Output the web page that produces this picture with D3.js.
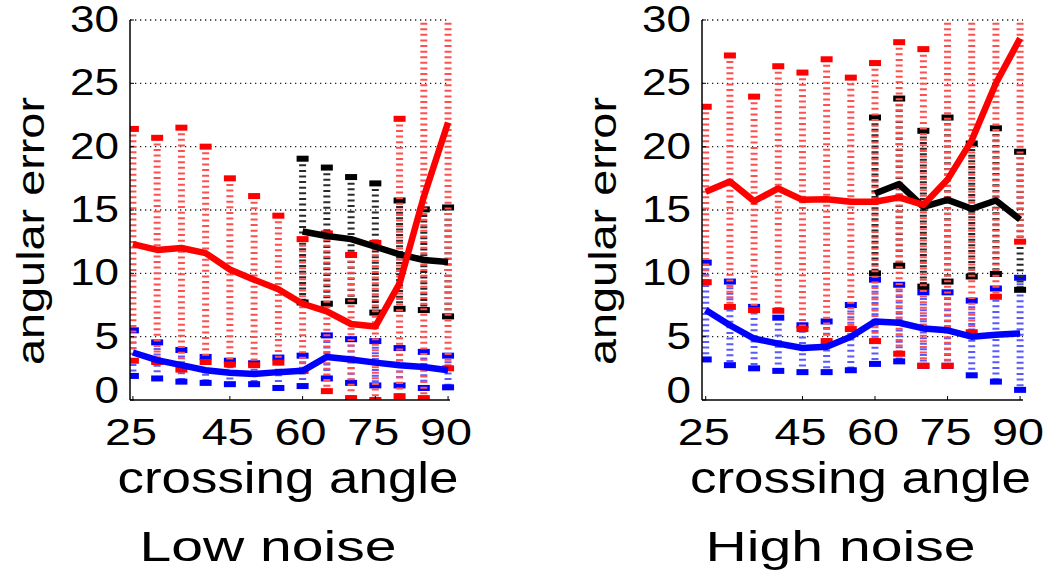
<!DOCTYPE html>
<html>
<head>
<meta charset="utf-8">
<script src="https://cdn.jsdelivr.net/npm/d3@7"></script>
<style>
html,body{margin:0;padding:0;background:#fff;}
svg{display:block;}
text{font-family:"Liberation Sans",Arial,sans-serif;fill:#000;}
</style>
</head>
<body>
<svg id="chart" width="1050" height="579"></svg>
<script>
// ---------- data ----------
const angles = [25,30,35,40,45,50,55,60,65,70,75,80,85,90];
const anglesBlack = [60,65,70,75,80,85,90];
const xTicks = [25,45,60,75,90];
const yTicks = [0,5,10,15,20,25,30];

// Low noise
const lowRedMean  = [12.3,11.85,12.0,11.6,10.3,9.5,8.75,7.6,7.0,6.0,5.8,9.2,16.05,21.9];
const lowRedUpper = [21.4,20.7,21.5,20.0,17.5,16.1,14.55,12.7,13.15,11.45,12.4,22.2,32,32];
const lowRedLower = [3.1,3.0,2.4,3.0,2.8,2.75,2.95,2.3,0.7,0.15,0.0,0.3,0.15,2.5];
const lowBlueMean  = [3.75,3.15,2.75,2.35,2.15,2.05,2.2,2.3,3.4,3.2,2.95,2.75,2.6,2.35];
const lowBlueUpper = [5.5,4.55,3.95,3.4,3.1,2.9,3.35,3.5,5.1,4.8,4.65,4.1,3.8,3.5];
const lowBlueLower = [1.9,1.7,1.45,1.35,1.25,1.25,0.95,1.1,1.7,1.35,1.15,1.15,0.95,1.0];
const lowBlackMean  = [13.3,12.95,12.7,12.1,11.5,11.05,10.9];
const lowBlackUpper = [19.05,18.35,17.6,17.1,15.75,15.05,15.2];
const lowBlackLower = [7.7,7.6,7.8,6.9,7.2,7.1,6.6];

// High noise
const highRedMean  = [16.45,17.25,15.7,16.7,15.8,15.85,15.65,15.65,16.0,15.4,17.4,20.5,25.0,28.55];
const highRedUpper = [23.15,27.2,23.95,26.35,25.85,26.9,25.45,26.6,28.25,27.7,32,32,32,32];
const highRedLower = [9.3,7.35,7.1,7.05,5.6,4.65,5.6,4.65,3.65,2.7,2.7,5.35,8.15,12.5];
const highBlueMean  = [7.1,5.9,4.85,4.45,4.1,4.2,5.0,6.2,6.1,5.65,5.5,5.0,5.15,5.25];
const highBlueUpper = [10.85,9.35,7.35,6.5,5.9,6.2,7.5,9.5,9.1,8.5,8.5,7.85,8.8,9.65];
const highBlueLower = [3.2,2.75,2.5,2.3,2.2,2.2,2.35,2.85,3.05,2.7,2.7,1.95,1.45,0.8];
const highBlackMean  = [16.3,17.05,15.25,15.8,15.1,15.75,14.25];
const highBlackUpper = [22.3,23.8,21.25,22.3,20.25,21.45,19.6];
const highBlackLower = [10.0,10.6,8.95,9.35,9.75,9.95,8.7];

const panelTitles = ["Low noise","High noise"];
const xLabel = "crossing angle";
const yLabel = "angular error";

// ---------- drawing ----------
const svg = d3.select("#chart");

function panel(cfg, idx){
  const {left,right,top,bottom,xdom,series,title} = cfg;
  const x = d3.scaleLinear().domain(xdom).range([left,right]);
  const y = d3.scaleLinear().domain([0,30]).range([bottom,top]);
  const g = svg.append("g");
  const clipId = "clip"+idx;
  svg.append("clipPath").attr("id",clipId).append("rect")
    .attr("x",left).attr("y",top-1).attr("width",right-left+6).attr("height",bottom-top+1);

  // grid
  g.selectAll("line.grid").data(yTicks.filter(v=>v>0)).join("line")
    .attr("x1",left).attr("x2",right).attr("y1",d=>y(d)).attr("y2",d=>y(d))
    .attr("stroke","#222").attr("stroke-width",1.3).attr("stroke-dasharray","1.3,3.7");

  const plot = g.append("g").attr("clip-path",`url(#${clipId})`);

  // error bars
  series.forEach(s=>{
    const eg = plot.append("g");
    const pts = s.xs.map((a,i)=>({a, lo:s.lower[i], hi:s.upper[i]}));
    eg.selectAll("line.eb").data(pts).join("line")
      .attr("x1",d=>x(d.a)).attr("x2",d=>x(d.a))
      .attr("y1",d=>y(d.hi)).attr("y2",d=>y(d.lo))
      .attr("stroke",s.stripe).attr("stroke-width",7).attr("stroke-dasharray","2,3.6");
    ["lo","hi"].forEach(k=>{
      eg.selectAll("rect.cap"+k).data(pts).join("rect")
        .attr("x",d=>x(d.a)-6).attr("y",d=>y(d[k])-3)
        .attr("width",12).attr("height",6).attr("fill",s.color);
    });
  });
  // mean lines
  series.forEach(s=>{
    const line = d3.line().x((d,i)=>x(s.xs[i])).y(d=>y(d));
    plot.append("path").datum(s.mean).attr("d",line)
      .attr("fill","none").attr("stroke",s.color).attr("stroke-width",6.5)
      .attr("stroke-linejoin","round").attr("stroke-linecap","butt");
  });

  // axes lines
  g.append("line").attr("x1",left).attr("x2",left).attr("y1",top).attr("y2",bottom)
    .attr("stroke","#000").attr("stroke-width",1.5);
  g.append("line").attr("x1",left).attr("x2",right).attr("y1",bottom).attr("y2",bottom)
    .attr("stroke","#000").attr("stroke-width",1.5);
  g.selectAll("line.xt").data(xTicks).join("line")
    .attr("x1",d=>x(d)).attr("x2",d=>x(d)).attr("y1",bottom).attr("y2",bottom-4)
    .attr("stroke","#000").attr("stroke-width",1);
  g.selectAll("line.yt").data(yTicks).join("line")
    .attr("x1",left).attr("x2",left+4).attr("y1",d=>y(d)).attr("y2",d=>y(d))
    .attr("stroke","#000").attr("stroke-width",1);

  // tick labels
  g.selectAll("text.xl").data(xTicks).join("text")
    .attr("x",d=>x(d)-2).attr("y",bottom+45).attr("text-anchor","middle")
    .attr("font-size",36).attr("textLength",52).attr("lengthAdjust","spacingAndGlyphs")
    .text(d=>d);
  g.selectAll("text.yl").data(yTicks).join("text")
    .attr("x",left-11).attr("y",d=>y(d)+(d===0?3:12)).attr("text-anchor","end")
    .attr("font-size",36).attr("textLength",d=>String(d).length*24.5).attr("lengthAdjust","spacingAndGlyphs")
    .text(d=>d);

  // axis labels
  const cx = (left+right)/2;
  g.append("text").attr("x",cx-2).attr("y",493).attr("text-anchor","middle")
    .attr("font-size",44).attr("textLength",341).attr("lengthAdjust","spacingAndGlyphs")
    .text(xLabel);
  g.append("text").attr("transform",`translate(${left-86},231) rotate(-90)`)
    .attr("text-anchor","middle").attr("font-size",38)
    .attr("textLength",268).attr("lengthAdjust","spacingAndGlyphs").text(yLabel);
  g.append("text").attr("x",cx-22).attr("y",561).attr("text-anchor","middle")
    .attr("font-size",42).attr("textLength",idx===0?257:270).attr("lengthAdjust","spacingAndGlyphs")
    .text(title);
}

const RED="#ff0000", BLUE="#0000ff", BLACK="#000000";
panel({left:130,right:450,top:20,bottom:400,xdom:[24.4,90.4],title:panelTitles[0],
  series:[
    {xs:angles,mean:lowBlueMean,upper:lowBlueUpper,lower:lowBlueLower,color:BLUE,stripe:"#5a5aff"},
    {xs:anglesBlack,mean:lowBlackMean,upper:lowBlackUpper,lower:lowBlackLower,color:BLACK,stripe:"#2a2a2a"},
    {xs:angles,mean:lowRedMean,upper:lowRedUpper,lower:lowRedLower,color:RED,stripe:"#ff5050"}
  ]},0);
panel({left:702,right:1023,top:20,bottom:400,xdom:[24.23,90.6],title:panelTitles[1],
  series:[
    {xs:angles,mean:highBlueMean,upper:highBlueUpper,lower:highBlueLower,color:BLUE,stripe:"#5a5aff"},
    {xs:anglesBlack,mean:highBlackMean,upper:highBlackUpper,lower:highBlackLower,color:BLACK,stripe:"#2a2a2a"},
    {xs:angles,mean:highRedMean,upper:highRedUpper,lower:highRedLower,color:RED,stripe:"#ff5050"}
  ]},1);
</script>
</body>
</html>
